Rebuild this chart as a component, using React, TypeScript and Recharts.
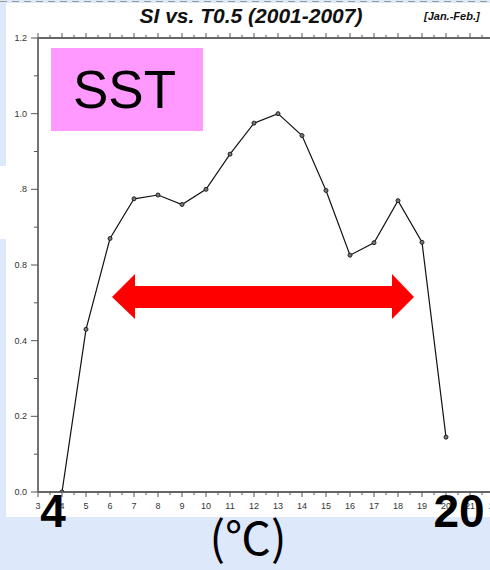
import React from "react";
import { LineChart, Line, XAxis, YAxis } from "recharts";

const temps = [4, 5, 6, 7, 8, 9, 10, 11, 12, 13, 14, 15, 16, 17, 18, 19, 20];
const siValues = [0, 0.43, 0.67, 0.775, 0.785, 0.76, 0.8, 0.893, 0.975, 1.0, 0.942, 0.797, 0.626, 0.659, 0.77, 0.66, 0.145];

const xTicks = [3, 3.5, 4, 4.5, 5, 5.5, 6, 6.5, 7, 7.5, 8, 8.5, 9, 9.5, 10, 10.5, 11, 11.5, 12, 12.5, 13, 13.5, 14, 14.5, 15, 15.5, 16, 16.5, 17, 17.5, 18, 18.5, 19, 19.5, 20, 20.5, 21, 21.5, 22];
const yTicks = [0, 0.1, 0.2, 0.3, 0.4, 0.5, 0.6, 0.7, 0.8, 0.9, 1.0, 1.1, 1.2];
const yTickLabels: Record<string, string> = {
  "0": "0.0",
  "2": "0.2",
  "4": "0.4",
  "6": "0.8",
  "8": ".8",
  "10": "1.0",
  "12": "1.2",
};

const data = temps.map((t, i) => ({ t, si: siValues[i] }));

const FONT = "'Liberation Sans', Arial, Helvetica, sans-serif";

const BottomTick = (props: any) => {
  const { x, y, payload } = props;
  const v = payload.value;
  const major = Math.abs(v - Math.round(v)) < 1e-6;
  return (
    <g>
      <line x1={x} x2={x} y1={y} y2={y + (major ? 5 : 3)} stroke="#555" strokeWidth={1} />
      {major && (
        <text x={x} y={y + 17} textAnchor="middle" fontSize={9} fill="#333" fontFamily={FONT}>
          {v}
        </text>
      )}
    </g>
  );
};

const TopTick = (props: any) => {
  const { x, y, payload } = props;
  const v = payload.value;
  const major = Math.abs(v - Math.round(v)) < 1e-6;
  return <line x1={x} x2={x} y1={y} y2={y - (major ? 5 : 3)} stroke="#555" strokeWidth={1} />;
};

const LeftTick = (props: any) => {
  const { x, y, payload } = props;
  const k = Math.round(payload.value * 10);
  const major = k % 2 === 0;
  return (
    <g>
      <line x1={x - (major ? 7 : 4)} x2={x} y1={y} y2={y} stroke="#555" strokeWidth={1} />
      {major && (
        <text x={x - 11} y={y + 3} textAnchor="end" fontSize={9} fill="#333" fontFamily={FONT}>
          {yTickLabels[String(k)]}
        </text>
      )}
    </g>
  );
};

const Dot = (props: any) => {
  const { cx, cy } = props;
  return <circle cx={cx} cy={cy} r={2} fill="#777" stroke="#222" strokeWidth={1} />;
};

export default function App() {
  return (
    <div
      style={{
        position: "absolute",
        left: 0,
        top: 0,
        width: 490,
        height: 570,
        overflow: "hidden",
        background: "#dde9fb",
      }}
    >
      <div style={{ position: "absolute", left: 6, top: 3, width: 484, height: 514, background: "#fff" }} />
      <div style={{ position: "absolute", left: 0, top: 166, width: 6, height: 73, background: "#fff" }} />
      <div style={{ position: "absolute", left: 0, top: 0 }}>
        <LineChart
          width={500}
          height={570}
          data={data}
          margin={{ top: 28, right: 6, bottom: 58, left: 0 }}
        >
          <XAxis
            xAxisId="bottom"
            dataKey="t"
            type="number"
            domain={[3, 22]}
            ticks={xTicks}
            interval={0}
            height={20}
            tickSize={0}
            tickMargin={0}
            tickLine={false}
            tick={<BottomTick />}
            axisLine={{ stroke: "#666", strokeWidth: 1.8 }}
            allowDataOverflow
          />
          <XAxis
            xAxisId="top"
            orientation="top"
            dataKey="t"
            type="number"
            domain={[3, 22]}
            ticks={xTicks}
            interval={0}
            height={10}
            tickSize={0}
            tickMargin={0}
            tickLine={false}
            tick={<TopTick />}
            axisLine={{ stroke: "#666", strokeWidth: 1.8 }}
            allowDataOverflow
          />
          <YAxis
            type="number"
            domain={[0, 1.2]}
            ticks={yTicks}
            interval={0}
            width={38}
            tickSize={0}
            tickMargin={0}
            tickLine={false}
            tick={<LeftTick />}
            axisLine={{ stroke: "#666", strokeWidth: 1.8 }}
            allowDataOverflow
          />
          <Line
            xAxisId="bottom"
            type="linear"
            dataKey="si"
            stroke="#111"
            strokeWidth={1.2}
            dot={<Dot />}
            isAnimationActive={false}
          />
        </LineChart>
      </div>
      <svg
        width={490}
        height={570}
        style={{ position: "absolute", left: 0, top: 0, pointerEvents: "none" }}
      >
        <line x1={0} x2={490} y1={1.5} y2={1.5} stroke="#999" strokeWidth={1} strokeDasharray="7 5" />
        <text x={251} y={23} textAnchor="middle" fontSize={21} fontWeight="bold" fontStyle="italic" fill="#111" fontFamily={FONT}>
          SI vs. T0.5 (2001-2007)
        </text>
        <text x={424} y={20} fontSize={11} fontWeight="bold" fontStyle="italic" fill="#111" fontFamily={FONT}>
          [Jan.-Feb.]
        </text>
        <rect x={51} y={48} width={152} height={83} fill="#ff99ff" />
        <text x={73} y={108} fontSize={53} fill="#000" fontFamily={FONT}>
          SST
        </text>
        <polygon
          points="112,297 135,274 135,286 392,286 392,274 414,297 392,319 392,308 135,308 135,319"
          fill="#ff0000"
        />
        <text x={53} y={527} textAnchor="middle" fontSize={46} fontWeight="bold" fill="#000" fontFamily={FONT}>
          4
        </text>
        <text x={459} y={527} textAnchor="middle" fontSize={46} fontWeight="bold" fill="#000" fontFamily={FONT}>
          20
        </text>
        <text x={248} y={555} textAnchor="middle" fontSize={46} fill="#000" fontFamily="'Noto Sans CJK JP', sans-serif">
          (℃)
        </text>
      </svg>
    </div>
  );
}
